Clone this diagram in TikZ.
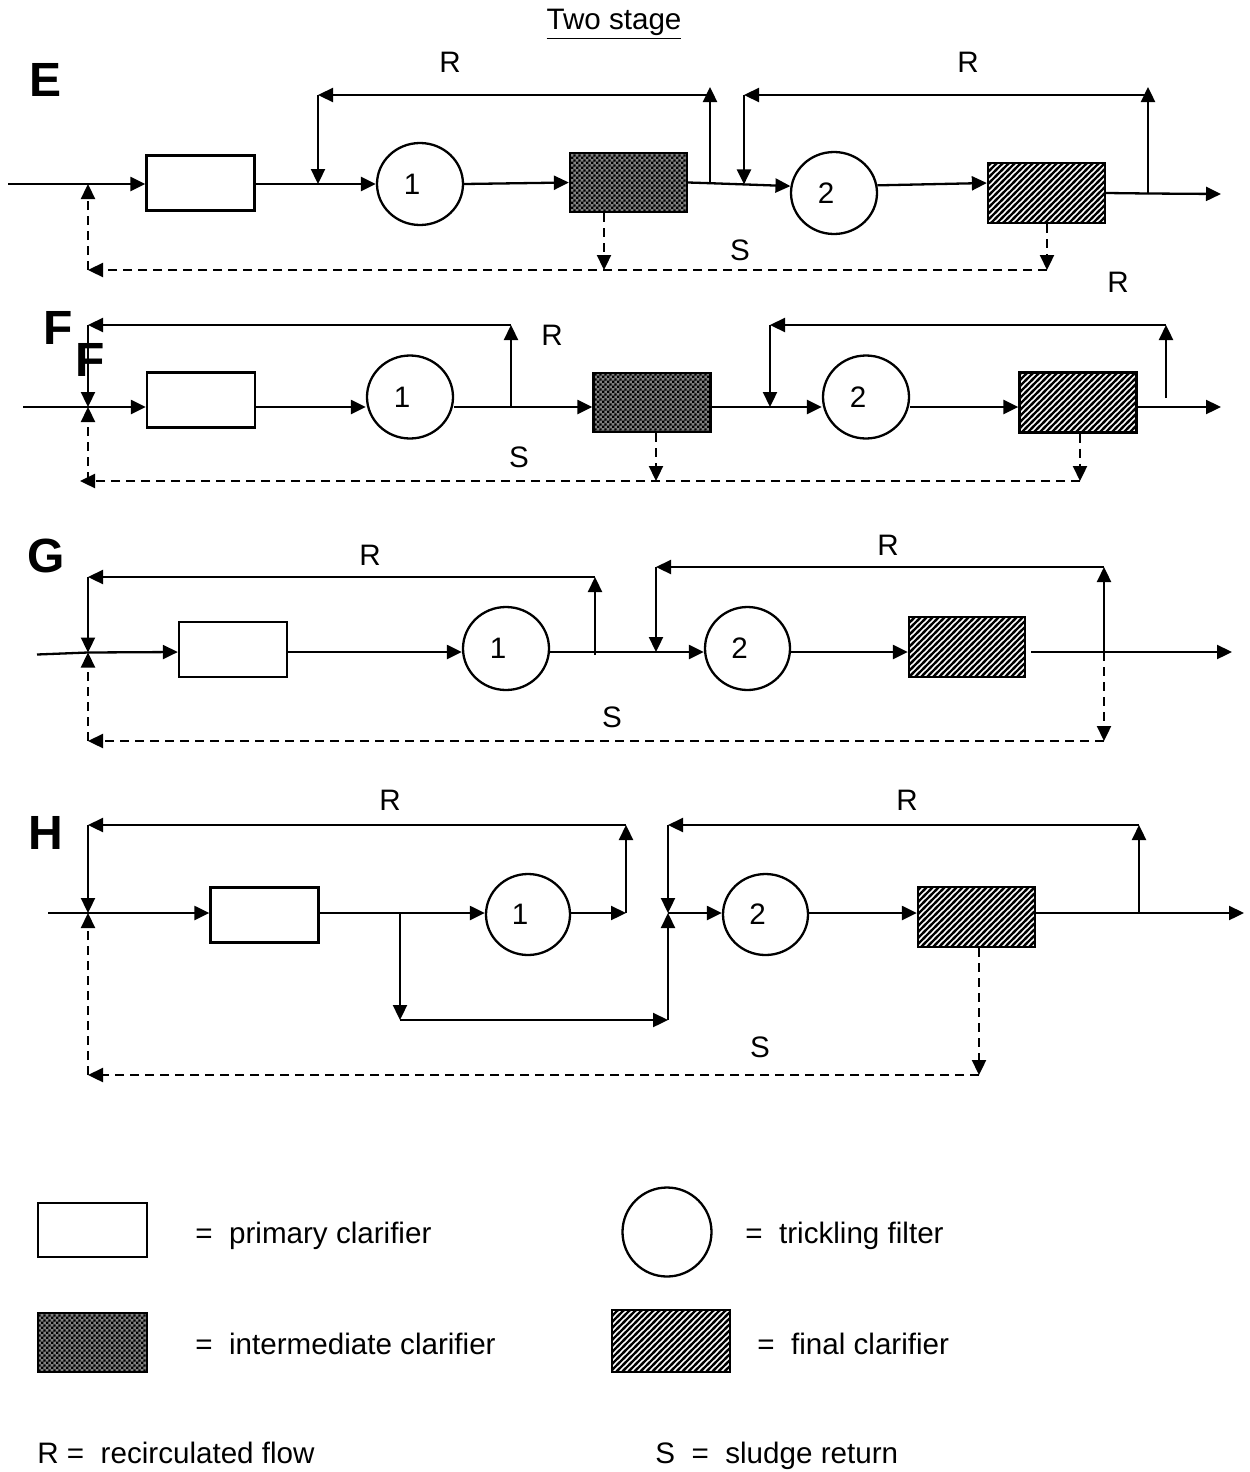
\documentclass[tikz,border=0pt]{standalone}
\usepackage{fontspec}
\setmainfont{Liberation Sans}
\usetikzlibrary{arrows.meta,shapes.geometric,patterns,calc}
\pgfdeclarepatternformonly{mychecker}{\pgfqpoint{0pt}{0pt}}{\pgfqpoint{2.6pt}{2.6pt}}{\pgfqpoint{2.6pt}{2.6pt}}{%
  \pgfpathrectangle{\pgfqpoint{0pt}{0pt}}{\pgfqpoint{1.3pt}{1.3pt}}%
  \pgfpathrectangle{\pgfqpoint{1.3pt}{1.3pt}}{\pgfqpoint{1.3pt}{1.3pt}}%
  \pgfusepath{fill}}
\pgfdeclarepatternformonly{mystripes}{\pgfqpoint{-1pt}{-1pt}}{\pgfqpoint{4pt}{4pt}}{\pgfqpoint{3pt}{3pt}}{%
  \pgfsetlinewidth{1.2pt}\pgfpathmoveto{\pgfqpoint{-1pt}{-1pt}}\pgfpathlineto{\pgfqpoint{4pt}{4pt}}\pgfusepath{stroke}}
\begin{document}
\begin{tikzpicture}[x=0.5pt,y=-0.5pt,
  every node/.style={font=\fontsize{14.8}{18}\selectfont},
  ln/.style={line width=1.15pt},
  arr/.style={ln,-{Triangle[length=7.5pt,width=7pt]}},
  dsh/.style={arr,dash pattern=on 4.5pt off 3pt},
  prim/.style={draw,ln,rectangle,inner sep=0pt,minimum width=54pt,minimum height=27.5pt},
  inter/.style={prim,minimum width=58.5pt,minimum height=29.5pt,preaction={fill=black!50},pattern=mychecker},
  fin/.style={prim,minimum width=58.5pt,minimum height=30pt,pattern=mystripes},
  filt/.style={draw,ln,ellipse,inner sep=0pt,minimum width=43pt,minimum height=41pt},
  big/.style={font=\fontsize{24}{28}\selectfont\bfseries,inner sep=0pt},
  lbl/.style={inner sep=0pt}
]
\useasboundingbox (0,0) rectangle (1249,1472);

% Title
\node[lbl,anchor=base] (title) at (614,29) {\underline{Two stage}};

% ================= E =================
\node[big] (lE) at (46,80) {E};
\coordinate (inE) at (8,184);
\coordinate (sE) at (88,184);
\node[prim] (p1E) at (200.5,183) {};
\coordinate (r1inE) at (318,184);
\node[filt] (c1E) at (420,184) {1\hspace*{8pt}};
\node[inter] (i1E) at (628.5,182.5) {};
\coordinate (r1outE) at (710,183.2);
\coordinate (r2inE) at (744,184.4);
\node[filt] (c2E) at (834,193) {2\hspace*{8pt}};
\node[fin] (f1E) at (1046.5,193) {};
\coordinate (r2outE) at (1148,193.5);
\coordinate (outE) at (1221,194);
\coordinate (r1tlE) at (318,95);
\coordinate (r1trE) at (710,95);
\coordinate (r1tipE) at (710,87);
\coordinate (r2tlE) at (744,95);
\coordinate (r2trE) at (1148,95);
\coordinate (r2tipE) at (1148,87);
\coordinate (s1E) at (604,270);
\coordinate (s2E) at (1047,270);
\coordinate (sblE) at (88,270);

\draw[ln] (inE) -- (sE);
\draw[arr] (sE) -- (p1E.west |- sE);
\draw[ln] (p1E.east |- r1inE) -- (r1inE);
\draw[arr] (r1inE) -- (c1E.west);
\draw[arr] (c1E.east) -- (i1E.west);
\draw[ln] (i1E.east) -- (r1outE);
\draw[ln] (r1outE) -- (r2inE);
\draw[arr] (r2inE) -- (c2E.171);
\draw[arr] (c2E.10) -- ($(f1E.west)+(0,-10)$);
\draw[ln] (f1E.east) -- (r2outE);
\draw[arr] (r2outE) -- (outE);
\draw[arr] (r1outE) -- (r1tipE);
\draw[arr] (r1trE) -- (r1tlE);
\draw[arr] (r1tlE) -- (r1inE);
\draw[arr] (r2outE) -- (r2tipE);
\draw[arr] (r2trE) -- (r2tlE);
\draw[arr] (r2tlE) -- (r2inE);
\draw[dsh] (i1E.south -| s1E) -- (s1E);
\draw[dsh] (f1E.south -| s2E) -- (s2E);
\draw[dsh] (s2E) -- (sblE);
\draw[dsh] (sblE) -- (sE);
\node (RE1) at (450,62) {R};
\node (RE2) at (968,62) {R};
\node (SE) at (740,250) {S};

% ================= F =================
\node[big] (lF1) at (58,328) {F};
\node[big] (lF2) at (90,360) {F};
\coordinate (inF) at (23,407);
\coordinate (sF) at (88,407);
\node[prim] (p1F) at (201,400) {};
\node[filt,minimum height=41.5pt] (c1F) at (410,397) {1\hspace*{8pt}};
\coordinate (r1outF) at (511,407);
\node[inter] (i1F) at (652,402.5) {};
\coordinate (r2inF) at (770,407);
\node[filt,minimum height=41.5pt] (c2F) at (866,397) {2\hspace*{8pt}};
\node[fin] (f1F) at (1078,402.5) {};
\coordinate (r2outF) at (1166,398);
\coordinate (outF) at (1221,407);
\coordinate (r1tlF) at (88,325);
\coordinate (r1trF) at (511,325);
\coordinate (r2tlF) at (770,325);
\coordinate (r2trF) at (1166,325);
\coordinate (s1F) at (656,481);
\coordinate (s2F) at (1080,481);
\coordinate (sblF) at (80,481);
\coordinate (scF) at (88,481);

\draw[ln] (inF) -- (sF);
\draw[arr] (sF) -- (p1F.west |- sF);
\draw[arr] (p1F.east |- sF) -- (c1F.west |- sF);
\draw[ln] (c1F.east |- sF) -- (r1outF);
\draw[arr] (r1outF) -- (i1F.west |- sF);
\draw[ln] (i1F.east |- sF) -- (r2inF);
\draw[arr] (r2inF) -- (c2F.west |- sF);
\draw[arr] (c2F.east |- sF) -- (f1F.west |- sF);
\draw[arr] (f1F.east |- sF) -- (outF);
\draw[arr] (r1outF) -- (r1trF);
\draw[arr] (r1trF) -- (r1tlF);
\draw[arr] (r1tlF) -- (sF);
\draw[arr] (r2outF) -- (r2trF);
\draw[arr] (r2trF) -- (r2tlF);
\draw[arr] (r2tlF) -- (r2inF);
\draw[dsh] (i1F.south -| s1F) -- (s1F);
\draw[dsh] (f1F.south -| s2F) -- (s2F);
\draw[dsh] (s2F) -- (sblF);
\draw[dsh] (scF) -- (sF);
\node (RF1) at (552,335) {R};
\node (RF2) at (1118,282) {R};
\node (SF) at (519,457) {S};

% ================= G =================
\node[big] (lG) at (46,556) {G};
\coordinate (inG) at (37,654.5);
\coordinate (sG) at (88,652.5);
\coordinate (mG) at (0,652);
\node[prim] (p1G) at (233,649.5) {};
\node[filt,minimum height=41.5pt] (c1G) at (506,648.5) {1\hspace*{8pt}};
\coordinate (r1outG) at (595,655);
\coordinate (r2inG) at (656,652);
\node[filt,minimum width=42.5pt,minimum height=41.5pt] (c2G) at (747.5,648.5) {2\hspace*{8pt}};
\node[fin,minimum width=58pt] (f1G) at (967,647) {};
\coordinate (r2outG) at (1104,652);
\coordinate (outG) at (1232,652);
\coordinate (r1tlG) at (88,577);
\coordinate (r1trG) at (595,577);
\coordinate (r2tlG) at (656,567);
\coordinate (r2trG) at (1104,567);
\coordinate (sdG) at (1104,741);
\coordinate (sblG) at (88,741);

\draw[ln] (inG) -- (sG);
\draw[arr] (sG) -- (p1G.west |- mG);
\draw[arr] (p1G.east |- mG) -- (c1G.west |- mG);
\draw[ln] (c1G.east |- mG) -- (r2inG);
\draw[arr] (r2inG) -- (c2G.west |- mG);
\draw[arr] (c2G.east |- mG) -- (f1G.west |- mG);
\draw[arr,shorten <=2.5pt] (f1G.east |- mG) -- (outG);
\draw[arr] (r1outG) -- (r1trG);
\draw[arr] (r1trG) -- (r1tlG);
\draw[arr] (r1tlG) -- (sG);
\draw[arr] (r2outG) -- (r2trG);
\draw[arr] (r2trG) -- (r2tlG);
\draw[arr] (r2tlG) -- (r2inG);
\draw[dsh] (r2outG) -- (sdG);
\draw[dsh] (sdG) -- (sblG);
\draw[dsh] (sblG) -- (sG);
\node (RG1) at (370,555) {R};
\node (RG2) at (888,545) {R};
\node (SG) at (612,717) {S};

% ================= H =================
\node[big] (lH) at (46,833) {H};
\coordinate (inH) at (48,913);
\coordinate (sH) at (88,913);
\node[prim] (p1H) at (264.5,915) {};
\coordinate (bH) at (400,913);
\coordinate (bdH) at (400,1020);
\coordinate (brH) at (668,1020);
\node[filt,minimum width=42pt,minimum height=40.5pt] (c1H) at (528,914.5) {1\hspace*{8pt}};
\coordinate (r1outH) at (626,913);
\coordinate (r1trH) at (626,825);
\coordinate (r1tlH) at (88,825);
\coordinate (r2inH) at (668,913);
\coordinate (r2tlH) at (668,825);
\coordinate (r2trH) at (1139,825);
\node[filt,minimum width=42.5pt,minimum height=40.5pt] (c2H) at (765.5,914.5) {2\hspace*{8pt}};
\node[fin] (f1H) at (976.5,917) {};
\coordinate (r2outH) at (1139,913);
\coordinate (outH) at (1244,913);
\coordinate (sdH) at (979,1075);
\coordinate (sblH) at (88,1075);

\draw[ln] (inH) -- (sH);
\draw[arr] (sH) -- (p1H.west |- sH);
\draw[ln] (p1H.east |- sH) -- (bH);
\draw[arr] (bH) -- (c1H.west |- sH);
\draw[arr] (bH) -- (bdH);
\draw[arr] (bdH) -- (brH);
\draw[arr] (brH) -- (r2inH);
\draw[arr] (c1H.east |- sH) -- (r1outH);
\draw[arr] (r1outH) -- (r1trH);
\draw[arr] (r1trH) -- (r1tlH);
\draw[arr] (r1tlH) -- (sH);
\draw[arr] (r2inH) -- (c2H.west |- sH);
\draw[arr] (r2trH) -- (r2tlH);
\draw[arr] (r2tlH) -- (r2inH);
\draw[arr] (c2H.east |- sH) -- (f1H.west |- sH);
\draw[ln] (f1H.east |- sH) -- (r2outH);
\draw[arr] (r2outH) -- (outH);
\draw[arr] (r2outH) -- (r2trH);
\draw[dsh] (f1H.south -| sdH) -- (sdH);
\draw[dsh] (sdH) -- (sblH);
\draw[dsh] (sblH) -- (sH);
\node (RH1) at (390,800) {R};
\node (RH2) at (907,800) {R};
\node (SH) at (760,1047) {S};

% ================= Legend =================
\node[prim,minimum width=54.5pt,minimum height=27pt] (lgP) at (92.5,1230) {};
\node[lbl,anchor=base west] (lgPt) at (195,1243) {=\ \ primary clarifier};
\node[filt,minimum width=44.5pt,minimum height=44.5pt] (lgC) at (667,1232) {};
\node[lbl,anchor=base west] (lgCt) at (745,1243) {=\ \ trickling filter};
\node[inter,minimum width=54.5pt,minimum height=29.5pt] (lgI) at (92.5,1342.5) {};
\node[lbl,anchor=base west] (lgIt) at (195,1354) {=\ \ intermediate clarifier};
\node[fin,minimum width=59pt,minimum height=31pt] (lgF) at (671,1341) {};
\node[lbl,anchor=base west] (lgFt) at (757,1354) {=\ \ final clarifier};
\node[lbl,anchor=base west] (lgR) at (37,1463) {R =\ \ recirculated flow};
\node[lbl,anchor=base west] (lgS) at (655,1463) {S\ \ =\ \ sludge return};
\end{tikzpicture}
\end{document}
